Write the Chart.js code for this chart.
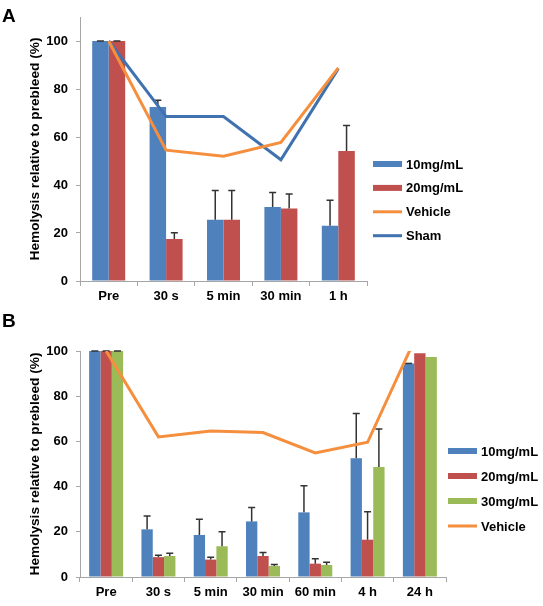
<!DOCTYPE html>
<html>
<head>
<meta charset="utf-8">
<script src="https://cdn.jsdelivr.net/npm/chart.js@4.4.1/dist/chart.umd.min.js"></script>
<style>
  html, body { margin: 0; padding: 0; background: #fff; }
  #wrap { position: relative; width: 543px; height: 606px; }
  canvas { position: absolute; left: 0; }
  #chartA { top: 0; }
  #chartB { top: 303px; }
</style>
</head>
<body>
<div id="wrap">
  <canvas id="chartA" width="543" height="303"></canvas>
  <canvas id="chartB" width="543" height="303"></canvas>
</div>
<script>
// Panel A
const labelsA = ["Pre", "30 s", "5 min", "30 min", "1 h"];
const a10 = [100, 72.5, 25.5, 30.8, 23];
const a10Err = [0, 2.8, 12.2, 6.1, 10.6];
const a20 = [100, 17.5, 25.5, 30.2, 54.2];
const a20Err = [0, 2.6, 12.2, 6.1, 10.6];
const aVehicle = [100, 54.5, 52, 57.7, 88.8];
const aSham = [100, 68.5, 68.5, 50.5, 88.5];

// Panel B
const labelsB = ["Pre", "30 s", "5 min", "30 min", "60 min", "4 h", "24 h"];
const b10 = [100, 21.1, 18.6, 24.6, 28.6, 52.5, 94.5];
const b10Err = [0, 5.9, 6.9, 6.2, 11.8, 19.9, 0];
const b20 = [100, 8.8, 7.7, 9.3, 5.9, 16.5, 99];
const b20Err = [0, 0.8, 1.0, 1.5, 2.2, 12.4, null];
const b30 = [100, 9.3, 13.6, 4.9, 5.3, 48.7, 97.3];
const b30Err = [0, 1.2, 6.4, 0.6, 1.2, 16.8, null];
const bVehicle = [100, 62, 64.6, 63.9, 54.9, 59.6, 110];

const yTitle = "Hemolysis relative to prebleed (%)";

const BLUE = "#4F81BD", RED = "#C0504D", GREEN = "#9BBB59";
const ORANGE = "#F58F3E", SHAM = "#3F72AF", AXIS = "#a6a6a6";
const FONT = '"Liberation Sans", Arial, sans-serif';

Chart.defaults.font.family = FONT;
Chart.defaults.font.weight = "bold";
Chart.defaults.color = "#000";

// upward error bars with a cap, drawn right after each bar dataset
const errorBars = {
  id: "errorBars",
  afterDatasetDraw(chart, args) {
    const ds = chart.data.datasets[args.index];
    if (!ds.errors) return;
    const ctx = chart.ctx;
    const y = chart.scales.y;
    ctx.save();
    ctx.strokeStyle = "#333";
    ctx.lineWidth = 1.5;
    args.meta.data.forEach((bar, i) => {
      const e = ds.errors[i];
      if (e === null || e === undefined) return;
      const y0 = y.getPixelForValue(ds.data[i]);
      const y1 = y.getPixelForValue(ds.data[i] + e);
      ctx.beginPath();
      ctx.moveTo(bar.x, y0);
      ctx.lineTo(bar.x, y1);
      ctx.moveTo(bar.x - 3.5, y1);
      ctx.lineTo(bar.x + 3.5, y1);
      ctx.stroke();
    });
    ctx.restore();
  }
};

// excel style legend on the right plus the panel letter
const sideLegend = {
  id: "sideLegend",
  afterDraw(chart, args, opts) {
    const ctx = chart.ctx;
    ctx.save();
    ctx.font = "bold 19px " + FONT;
    ctx.fillStyle = "#000";
    ctx.textBaseline = "alphabetic";
    ctx.fillText(opts.panel, 2, opts.panelY);
    ctx.font = "bold 13px " + FONT;
    ctx.textBaseline = "middle";
    chart.data.datasets.forEach((ds, i) => {
      const yy = opts.top + i * opts.gap;
      const isLine = ds.type === "line";
      ctx.strokeStyle = isLine ? ds.borderColor : ds.backgroundColor;
      ctx.lineWidth = isLine ? 3 : 6;
      ctx.beginPath();
      ctx.moveTo(opts.left, yy);
      ctx.lineTo(opts.left + 29, yy);
      ctx.stroke();
      ctx.fillText(ds.label, opts.left + 33, yy + 1);
    });
    ctx.restore();
  }
};

function barSet(label, data, errors, color) {
  return { type: "bar", label, data, errors, backgroundColor: color, borderWidth: 0, order: 1 };
}
function lineSet(label, data, color) {
  return { type: "line", label, data, borderColor: color, backgroundColor: color, borderWidth: 3,
           pointRadius: 0, fill: false, tension: 0, order: 0 };
}

function makeOptions(yMax, catPct, pad, axisH, legend) {
  return {
    responsive: false,
    animation: false,
    layout: { padding: pad },
    datasets: { bar: { barPercentage: 1, categoryPercentage: catPct } },
    plugins: { legend: { display: false }, tooltip: { enabled: false }, sideLegend: legend },
    scales: {
      x: {
        grid: { drawOnChartArea: false, drawTicks: true, tickLength: 5, color: AXIS, offset: true },
        border: { color: AXIS },
        ticks: { font: { size: 13, weight: "bold" }, padding: 3, maxRotation: 0, autoSkip: false },
        afterFit: s => { s.height = axisH; }
      },
      y: {
        min: 0,
        max: yMax,
        ticks: { stepSize: 20, includeBounds: false, padding: 8, font: { size: 13, weight: "bold" },
                 callback: v => (v <= 100 ? v : "") },
        grid: { drawOnChartArea: false, tickLength: 4, color: AXIS },
        border: { color: AXIS },
        title: { display: true, text: yTitle, font: { size: 13.7, weight: "bold" }, padding: { top: 27 } },
        afterFit: s => { s.width = 80; }
      }
    }
  };
}

new Chart(document.getElementById("chartA").getContext("2d"), {
  data: {
    labels: labelsA,
    datasets: [
      barSet("10mg/mL", a10, a10Err, BLUE),
      barSet("20mg/mL", a20, a20Err, RED),
      lineSet("Vehicle", aVehicle, ORANGE),
      lineSet("Sham", aSham, SHAM)
    ]
  },
  options: makeOptions(110, 0.575, { top: 17, right: 176, left: 0, bottom: 0 }, 22,
    { panel: "A", panelY: 22, left: 373, top: 164, gap: 23.9 }),
  plugins: [errorBars, sideLegend]
});

new Chart(document.getElementById("chartB").getContext("2d"), {
  data: {
    labels: labelsB,
    datasets: [
      barSet("10mg/mL", b10, b10Err, BLUE),
      barSet("20mg/mL", b20, b20Err, RED),
      barSet("30mg/mL", b30, b30Err, GREEN),
      lineSet("Vehicle", bVehicle, ORANGE)
    ]
  },
  options: makeOptions(100, 0.65, { top: 48, right: 97, left: 0, bottom: 0 }, 29,
    { panel: "B", panelY: 24, left: 448, top: 148, gap: 25 }),
  plugins: [errorBars, sideLegend]
});
</script>
</body>
</html>
